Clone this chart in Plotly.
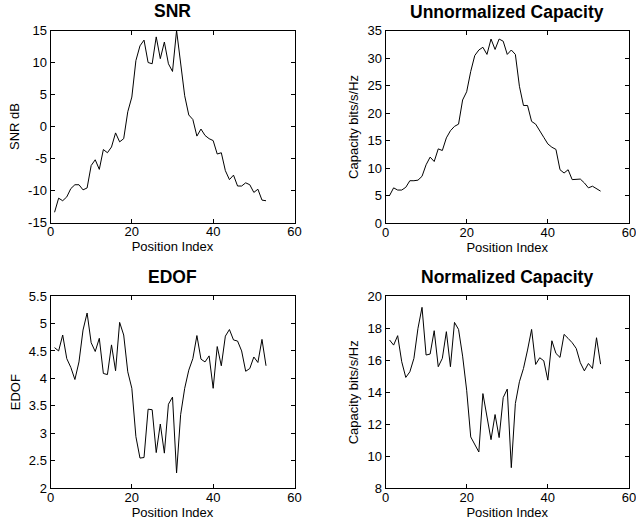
import plotly.graph_objects as go

position = list(range(1, 54))

snr_db = [-13.4, -11.2, -11.6, -11.0, -9.7, -9.1, -9.1, -9.9, -9.6, -6.1,
          -5.2, -6.7, -3.6, -4.1, -3.2, -1.0, -2.4, -1.9, 2.3, 4.6,
          10.3, 12.6, 13.5, 10.0, 9.8, 14.0, 10.6, 13.2, 9.8, 8.6,
          15.0, 10.1, 4.8, 1.8, 1.1, -1.5, -0.4, -1.4, -1.9, -2.2,
          -4.3, -4.1, -6.9, -8.3, -7.6, -9.3, -9.3, -8.8, -9.1, -10.3,
          -9.8, -11.5, -11.6]

unnorm_cap = [5.0, 6.4, 6.0, 6.0, 6.5, 7.7, 7.7, 7.8, 8.5, 10.6,
              12.0, 11.2, 13.5, 13.2, 15.5, 16.8, 17.6, 18.0, 22.4, 23.9,
              27.6, 30.5, 31.5, 32.0, 30.7, 33.5, 31.6, 33.5, 33.1, 30.7,
              31.5, 30.7, 24.9, 21.4, 21.4, 18.5, 18.0, 16.7, 15.6, 14.4,
              13.8, 13.4, 9.7, 9.1, 9.7, 7.9, 7.9, 8.0, 7.3, 6.4,
              6.7, 6.3, 5.8]

edof = [4.56, 4.50, 4.79, 4.36, 4.20, 3.98, 4.30, 4.88, 5.19, 4.65,
        4.49, 4.73, 4.09, 4.07, 4.61, 4.14, 5.02, 4.79, 4.12, 3.82,
        2.94, 2.55, 2.56, 3.44, 3.43, 2.65, 3.17, 2.64, 3.53, 3.66,
        2.28, 3.34, 3.82, 4.15, 4.36, 4.78, 4.35, 4.30, 4.41, 3.82,
        4.58, 4.23, 4.77, 4.89, 4.70, 4.68, 4.50, 4.13, 4.18, 4.39,
        4.29, 4.71, 4.23]

norm_cap = [17.27, 16.95, 17.54, 15.91, 14.93, 15.28, 16.12, 18.0, 19.31, 16.33,
            16.39, 17.85, 15.60, 16.12, 17.79, 15.60, 18.37, 17.93, 16.26, 14.13,
            11.21, 10.69, 10.27, 13.92, 12.57, 11.04, 12.61, 11.17, 13.67, 14.20,
            9.29, 13.30, 14.66, 15.49, 16.64, 17.93, 15.74, 16.16, 15.97, 14.76,
            17.22, 16.43, 16.18, 17.62, 17.37, 17.10, 16.74, 15.85, 15.34, 15.80,
            15.49, 17.41, 15.76]

titles = ["SNR", "Unnormalized Capacity", "EDOF", "Normalized Capacity"]
ytitles = ["SNR dB", "Capacity bits/s/Hz", "EDOF", "Capacity bits/s/Hz"]
xtitle = "Position Index"
x_ticks = [0, 20, 40, 60]
y_ticks = [
    [-15, -10, -5, 0, 5, 10, 15],
    [0, 5, 10, 15, 20, 25, 30, 35],
    [2, 2.5, 3, 3.5, 4, 4.5, 5, 5.5],
    [8, 10, 12, 14, 16, 18, 20],
]
y_ranges = [[-15, 15], [0, 35], [2, 5.5], [8, 20]]
series = [snr_db, unnorm_cap, edof, norm_cap]

W, H = 636, 527
FONT = "Liberation Sans, Arial, Helvetica, sans-serif"

# pixel boxes (left, right, top, bottom)
boxes = [
    (50.5, 294.5, 30.5, 222.5),
    (385.5, 629.0, 30.8, 223.0),
    (50.5, 294.5, 296.0, 488.3),
    (385.5, 629.0, 296.3, 488.3),
]

fig = go.Figure()
annotations = []
for i in range(4):
    l, r, t, b = boxes[i]
    xa = "xaxis" if i == 0 else f"xaxis{i+1}"
    ya = "yaxis" if i == 0 else f"yaxis{i+1}"
    xref = "x" if i == 0 else f"x{i+1}"
    yref = "y" if i == 0 else f"y{i+1}"
    fig.add_trace(go.Scatter(x=position, y=series[i], mode="lines",
                             line=dict(color="black", width=1),
                             xaxis=xref, yaxis=yref, showlegend=False))
    axis_common = dict(showgrid=False, zeroline=False, showline=True,
                       linecolor="black", linewidth=1, mirror="allticks",
                       ticks="inside", ticklen=4, tickcolor="black",
                       automargin=False, ticklabeloverflow="allow",
                       tickfont=dict(family=FONT, size=13, color="black"))
    fig.update_layout(**{
        xa: dict(domain=[l / W, r / W], range=[0, 60], tickvals=x_ticks,
                 anchor=yref, ticklabelstandoff=-3,
                 title=dict(text=xtitle, font=dict(family=FONT, size=13, color="black"), standoff=0),
                 **axis_common),
        ya: dict(domain=[1 - b / H, 1 - t / H], range=y_ranges[i], tickvals=y_ticks[i],
                 ticktext=[("%g" % v) for v in y_ticks[i]],
                 anchor=xref,
                 title=dict(text=ytitles[i], font=dict(family=FONT, size=13, color="black"), standoff=5),
                 **axis_common),
    })
    annotations.append(dict(text="<b>" + titles[i] + "</b>", x=(l + r) / 2 / W,
                            y=1 - (t - 7) / H, xref="paper", yref="paper",
                            xanchor="center", yanchor="bottom", showarrow=False,
                            font=dict(family=FONT, size=17.5, color="black")))

fig.update_layout(width=W, height=H, margin=dict(l=0, r=0, t=0, b=0, autoexpand=False),
                  paper_bgcolor="white", plot_bgcolor="white",
                  annotations=annotations, showlegend=False)

fig.write_html("out.html")
